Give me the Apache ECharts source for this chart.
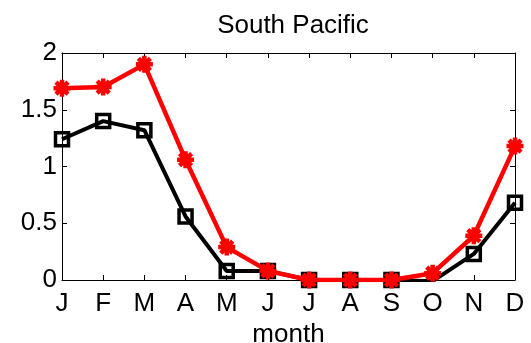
<!DOCTYPE html>
<html>
<head>
<meta charset="utf-8">
<script src="https://cdn.jsdelivr.net/npm/echarts@6/dist/echarts.min.js"></script>
<style>html,body{margin:0;padding:0;background:#fff;}#c{width:531px;height:343px;}</style>
</head>
<body>
<div id="c"></div>
<script>
var months = ['J','F','M','A','M','J','J','A','S','O','N','D'];
var redSeries = [1.69, 1.70, 1.90, 1.06, 0.29, 0.08, 0.00, 0.00, 0.00, 0.06, 0.39, 1.18];
var blackSeries = [1.24, 1.40, 1.32, 0.56, 0.08, 0.08, 0.00, 0.00, 0.00, -0.01, 0.23, 0.68];
var yTicks = [0, 0.5, 1, 1.5, 2];

var FONT = 'Liberation Sans, Arial, Helvetica, sans-serif';
var chart = echarts.init(document.getElementById('c'), null, {renderer:'canvas'});
var tickStyle = {show:true, inside:true, length:5, lineStyle:{color:'#000', width:1}};
var lineAx = {show:true, onZero:false, lineStyle:{color:'#000', width:1}};
chart.setOption({
  animation:false,
  backgroundColor:'#fff',
  title:{text:'South Pacific', left:288, top:8, textAlign:'center',
    textStyle:{fontFamily:FONT, fontSize:26, fontWeight:'normal', color:'#000'}},
  grid:{left:62, right:16, top:53, bottom:63, containLabel:false, outerBoundsMode:'none'},
  xAxis:[{
    type:'category', data:months, boundaryGap:false, position:'bottom',
    axisLine:lineAx, axisTick:tickStyle,
    axisLabel:{fontFamily:FONT, fontSize:26, color:'#000', margin:11, interval:0},
    splitLine:{show:false},
    name:'month', nameLocation:'middle', nameGap:37,
    nameTextStyle:{fontFamily:FONT, fontSize:26, color:'#000'}
  },{
    type:'category', data:months, boundaryGap:false, position:'top',
    axisLine:lineAx, axisTick:tickStyle, axisLabel:{show:false}, splitLine:{show:false}
  }],
  yAxis:[{
    type:'value', min:0, max:2, interval:0.5, position:'left',
    axisLine:lineAx, axisTick:tickStyle,
    axisLabel:{fontFamily:FONT, fontSize:26, color:'#000', margin:5,
      formatter:function(v){return String(v);}},
    splitLine:{show:false}
  },{
    type:'value', min:0, max:2, interval:0.5, position:'right',
    axisLine:lineAx, axisTick:tickStyle, axisLabel:{show:false}, splitLine:{show:false}
  }],
  series:[{
    type:'line', data:blackSeries, xAxisIndex:0, yAxisIndex:0,
    symbol:'rect', symbolSize:13, showAllSymbol:true,
    lineStyle:{color:'#000', width:4},
    itemStyle:{color:'rgba(0,0,0,0)', borderColor:'#000', borderWidth:3.5},
    z:2
  },{
    type:'line', data:redSeries, xAxisIndex:0, yAxisIndex:0,
    symbol:'path://M12,0L12,24M0,12L24,12M3.5,3.5L20.5,20.5M3.5,20.5L20.5,3.5',
    symbolSize:17, showAllSymbol:true,
    lineStyle:{color:'#ff0000', width:4.5},
    itemStyle:{color:'rgba(0,0,0,0)', borderColor:'#ff0000', borderWidth:4.5},
    z:3
  }]
});
</script>
</body>
</html>
